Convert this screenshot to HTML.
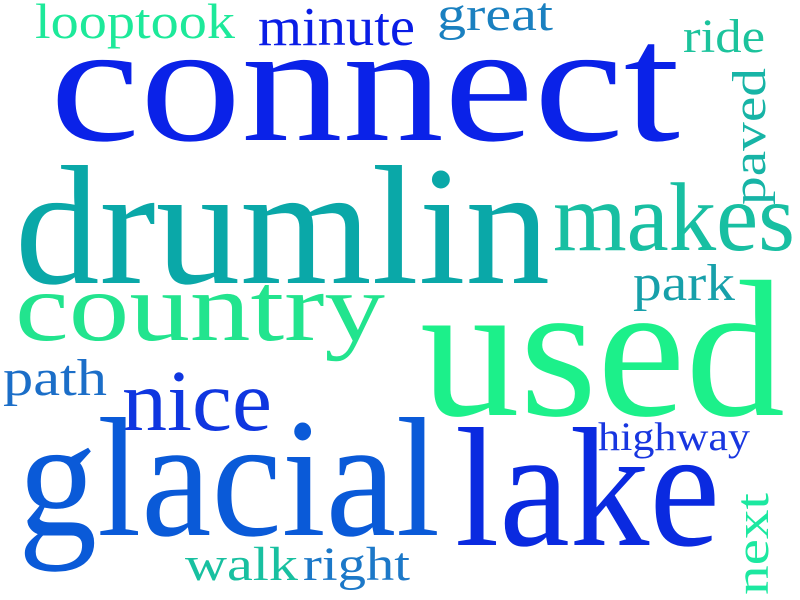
<!DOCTYPE html>
<html><head><meta charset="utf-8"><style>
html,body{margin:0;padding:0;background:#fff;}
svg{display:block}
text{font-family:"Liberation Serif",serif;}
</style></head><body>
<svg width="800" height="600" viewBox="0 0 800 600">
<text x="35" y="38" font-size="50" fill="#1de99a" textLength="200" lengthAdjust="spacingAndGlyphs">looptook</text>
<text x="258" y="45" font-size="55" fill="#0a1de6" textLength="157" lengthAdjust="spacingAndGlyphs">minute</text>
<text x="437" y="30" font-size="48" fill="#1a80c0" textLength="116" lengthAdjust="spacingAndGlyphs">great</text>
<text x="683" y="52" font-size="48" fill="#1cc39c" textLength="82" lengthAdjust="spacingAndGlyphs">ride</text>
<text x="50" y="140" font-size="170" fill="#0a22e8" textLength="630" lengthAdjust="spacingAndGlyphs">connect</text>
<text transform="translate(765,205) rotate(-90)" x="0" y="0" font-size="48" fill="#17b4a6" textLength="137" lengthAdjust="spacingAndGlyphs">paved</text>
<text x="15" y="283" font-size="170" fill="#0aa8a8" textLength="535" lengthAdjust="spacingAndGlyphs">drumlin</text>
<text x="553" y="250" font-size="98" fill="#18bfa2" textLength="242" lengthAdjust="spacingAndGlyphs">makes</text>
<text x="633" y="300" font-size="52" fill="#17a0aa" textLength="102" lengthAdjust="spacingAndGlyphs">park</text>
<text x="15" y="340" font-size="98" fill="#22e48e" textLength="370" lengthAdjust="spacingAndGlyphs">country</text>
<text x="420" y="415" font-size="195" fill="#1cf08a" textLength="365" lengthAdjust="spacingAndGlyphs">used</text>
<text x="3" y="395" font-size="52" fill="#1b6ec8" textLength="104" lengthAdjust="spacingAndGlyphs">path</text>
<text x="122" y="430" font-size="87" fill="#0f36e0" textLength="150" lengthAdjust="spacingAndGlyphs">nice</text>
<text x="598" y="450" font-size="40" fill="#1836e0" textLength="152" lengthAdjust="spacingAndGlyphs">highway</text>
<text x="18" y="535" font-size="170" fill="#0a5ad8" textLength="422" lengthAdjust="spacingAndGlyphs">glacial</text>
<text x="455" y="545" font-size="170" fill="#0a2ae0" textLength="265" lengthAdjust="spacingAndGlyphs">lake</text>
<text transform="translate(768,595) rotate(-90)" x="0" y="0" font-size="48" fill="#1ce8a0" textLength="102" lengthAdjust="spacingAndGlyphs">next</text>
<text x="185" y="580" font-size="48" fill="#18c0a0" textLength="113" lengthAdjust="spacingAndGlyphs">walk</text>
<text x="303" y="580" font-size="48" fill="#1c78c8" textLength="107" lengthAdjust="spacingAndGlyphs">right</text>
</svg>
</body></html>
